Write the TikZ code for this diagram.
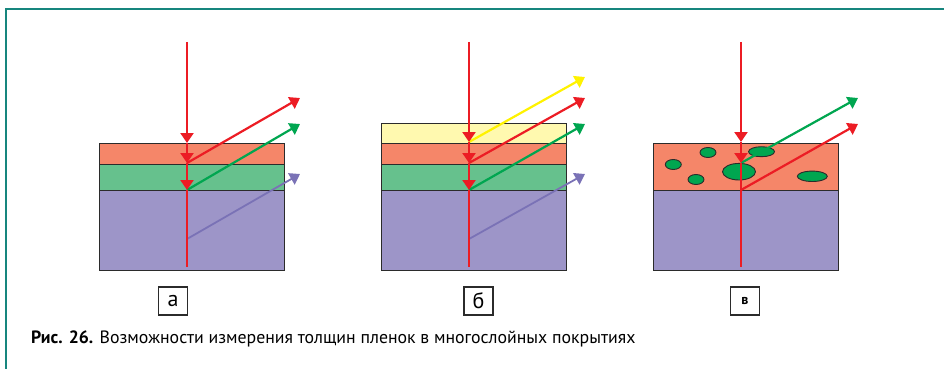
\documentclass[tikz,border=0pt]{standalone}
\usepackage{fontspec}
\setmainfont{PT Sans}
\usetikzlibrary{arrows.meta}
\definecolor{redc}{HTML}{EC1C24}
\definecolor{greenc}{HTML}{00A650}
\definecolor{purpc}{HTML}{7A72B6}
\definecolor{yellc}{HTML}{FFF200}
\definecolor{lyell}{HTML}{FFF9AF}
\definecolor{lorange}{HTML}{F58669}
\definecolor{lgreen}{HTML}{66C18D}
\definecolor{lpurp}{HTML}{9D95C8}
\definecolor{outl}{HTML}{2B2B2B}
\definecolor{teal}{HTML}{17867E}
\tikzset{
  tipr/.style={-{Triangle[width=13pt,length=10pt]}},
  ray/.style={line width=2.2pt, tipr},
  rayline/.style={line width=2.2pt},
  layeredge/.style={draw=outl, line width=1pt},
  labelbox/.style={draw=outl, line width=1.1pt, minimum width=29pt, minimum height=28pt, inner sep=0pt, font=\fontsize{22}{22}\selectfont},
  blob/.style={fill=greenc, draw=outl, line width=0.9pt},
  framec/.style={draw=teal, line width=2.6pt},
}
\begin{document}
\begin{tikzpicture}[x=1pt,y=-1pt]
\useasboundingbox (0,0) rectangle (944,369);
\draw[framec] (6,369) -- (6,9) -- (944,9);

% ---------- panel a ----------
\fill[lorange] (99,143) rectangle (284,164);
\fill[lgreen] (99,164) rectangle (284,190);
\fill[lpurp] (99,190) rectangle (284,270);
\draw[layeredge] (99,143) rectangle (284,270);
\draw[layeredge] (99,164) -- (284,164);
\draw[layeredge] (99,190) -- (284,190);
\coordinate (aS) at (187,42);
\coordinate (a1) at (187,143);
\coordinate (a2) at (187,163);
\coordinate (a3) at (187,190);
\coordinate (aP) at (187,239);
\coordinate (aB) at (187,267);
\coordinate (aRr) at (300,98);
\coordinate (aRg) at (300,124);
\coordinate (aRp) at (300,174);
\draw[ray, purpc, line width=1.8pt] (aP) -- (aRp);
\draw[ray, redc] (a2) -- (aRr);
\draw[ray, greenc] (a3) -- (aRg);
\draw[ray, redc] (aS) -- (a1);
\draw[ray, redc] (a1) -- (a2);
\draw[ray, redc] (a2) -- (a3);
\draw[rayline, redc] (a3) -- (aB);
\node[labelbox] (la) at (173,301) {а};

% ---------- panel b ----------
\fill[lyell] (381,123) rectangle (566,143);
\fill[lorange] (381,143) rectangle (566,164);
\fill[lgreen] (381,164) rectangle (566,190);
\fill[lpurp] (381,190) rectangle (566,270);
\draw[layeredge] (381,123) rectangle (566,270);
\draw[layeredge] (381,143) -- (566,143);
\draw[layeredge] (381,164) -- (566,164);
\draw[layeredge] (381,190) -- (566,190);
\coordinate (bS) at (469,42);
\coordinate (b1) at (469,142);
\coordinate (b2) at (469,163);
\coordinate (b3) at (469,190);
\coordinate (bP) at (469,239);
\coordinate (bB) at (469,267);
\coordinate (bRy) at (585,77);
\coordinate (bRr) at (585,98);
\coordinate (bRg) at (585,124);
\coordinate (bRp) at (585,174);
\draw[ray, purpc, line width=1.8pt] (bP) -- (bRp);
\draw[ray, yellc] (b1) -- (bRy);
\draw[ray, redc] (b2) -- (bRr);
\draw[ray, greenc] (b3) -- (bRg);
\draw[ray, redc] (bS) -- (b1);
\draw[ray, redc] (b1) -- (b2);
\draw[ray, redc] (b2) -- (b3);
\draw[rayline, redc] (b3) -- (bB);
\node[labelbox] (lb) at (478.5,301) {б};

% ---------- panel c ----------
\fill[lorange] (653,143) rectangle (838,190);
\fill[lpurp] (653,190) rectangle (838,270);
\draw[layeredge] (653,143) rectangle (838,270);
\draw[layeredge] (653,190) -- (838,190);
\draw[blob] (708,152.5) ellipse [x radius=8, y radius=5];
\draw[blob] (673.3,164.5) ellipse [x radius=8, y radius=5];
\draw[blob] (696,179.5) ellipse [x radius=8, y radius=5];
\draw[blob] (739,171.7) ellipse [x radius=16.5, y radius=8.3];
\draw[blob] (761.5,151.7) ellipse [x radius=13, y radius=5];
\draw[blob] (812.3,176.3) ellipse [x radius=15, y radius=5.2];
\coordinate (cS) at (741,42);
\coordinate (c1) at (741,142);
\coordinate (c2) at (741,163);
\coordinate (c3) at (741,190);
\coordinate (cB) at (741,267);
\coordinate (cRg) at (858,98);
\coordinate (cRr) at (858,124);
\draw[ray, greenc] (c2) -- (cRg);
\draw[ray, redc] (c3) -- (cRr);
\draw[ray, redc] (cS) -- (c1);
\draw[ray, redc] (c1) -- (c2);
\draw[rayline, redc] (c2) -- (cB);
\node[labelbox, font=\fontsize{14}{14}\selectfont\bfseries] (lc) at (745,301) {в};

% ---------- caption ----------
\node[anchor=base west, inner sep=0pt, font=\fontsize{17.8}{20}\selectfont] (cap) at (31,343)
  {\textbf{Рис. 26.} Возможности измерения толщин пленок в многослойных покрытиях};
\end{tikzpicture}
\end{document}
